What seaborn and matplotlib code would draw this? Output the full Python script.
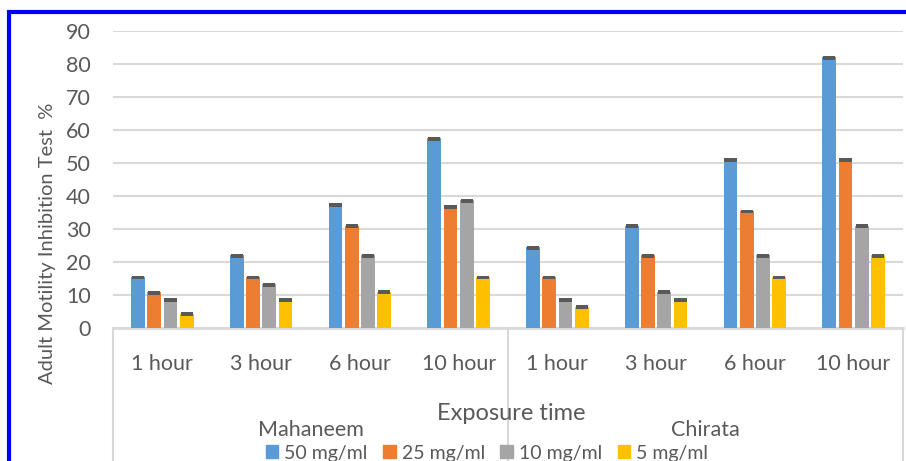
import matplotlib
matplotlib.use("Agg")
import matplotlib.pyplot as plt
import matplotlib.patches as mpatches
import seaborn as sns
import pandas as pd

# values (percent)
plants = ["Mahaneem", "Chirata"]
times = ["1 hour", "3 hour", "6 hour", "10 hour"]
concs = ["50 mg/ml", "25 mg/ml", "10 mg/ml", "5 mg/ml"]
colors = ["#5b9bd5", "#ed7d31", "#a5a5a5", "#ffc000"]

mahaneem_50 = [15.5, 22, 37.5, 57.5]
mahaneem_25 = [10.8, 15.5, 31, 37]
mahaneem_10 = [8.7, 13.2, 22, 38.8]
mahaneem_5 = [4.3, 8.7, 11, 15.5]
chirata_50 = [24.5, 31, 51, 82]
chirata_25 = [15.5, 22, 35.5, 51]
chirata_10 = [8.7, 11, 22, 31]
chirata_5 = [6.5, 8.7, 15.5, 22]

series = {
    "Mahaneem": [mahaneem_50, mahaneem_25, mahaneem_10, mahaneem_5],
    "Chirata": [chirata_50, chirata_25, chirata_10, chirata_5],
}

rows = []
for p in plants:
    for c, vals in zip(concs, series[p]):
        for t, v in zip(times, vals):
            rows.append({"cat": p + " " + t, "conc": c, "value": v})
df = pd.DataFrame(rows)
order = [p + " " + t for p in plants for t in times]

sns.set_style("white")
plt.rcParams["font.family"] = ["Lato", "DejaVu Sans"]
txt = "#595959"
grid = "#d9d9d9"

fig = plt.figure(figsize=(9.06, 4.61), dpi=100)
ax = fig.add_axes([113 / 906, 1 - 328 / 461, 790 / 906, (328 - 31) / 461])

sns.barplot(data=df, x="cat", y="value", hue="conc", order=order, hue_order=concs,
            palette=colors, width=0.66, gap=0.16, saturation=1, ax=ax,
            legend=False, zorder=3, linewidth=0)

# dark caps on the bar tops
bars = list(ax.patches)
for b in bars:
    h = b.get_height()
    ax.add_patch(mpatches.Rectangle((b.get_x() + b.get_width() * 0.05, h - 0.8),
                                    b.get_width() * 0.9, 1.2, facecolor="#595959",
                                    zorder=4, lw=0))

ax.set_ylim(0, 90)
ax.set_xlim(-0.5, 7.5)
ax.set_yticks(range(0, 91, 10))
ax.yaxis.grid(True, color=grid, lw=1.5, zorder=0)
ax.tick_params(axis="y", length=0, labelsize=15.5, labelcolor=txt, pad=16)
ax.tick_params(axis="x", length=0, labelsize=15.5, labelcolor=txt, pad=19)
ax.set_xticks(range(8))
ax.set_xticklabels(times * 2)
ax.set_xlabel("")
ax.set_ylabel("")
for s in ["left", "right", "top"]:
    ax.spines[s].set_visible(False)
ax.spines["bottom"].set_color(grid)
ax.spines["bottom"].set_linewidth(2)

# group separators below the axis
for xp in [-0.5, 3.5, 7.5]:
    ax.plot([xp, xp], [0, -45], color=grid, lw=1.5, clip_on=False, zorder=1)

for i, p in enumerate(plants):
    ax.text(1.5 + 4 * i, -31, p, ha="center", va="center", fontsize=15.5,
            color=txt, transform=ax.transData, clip_on=False)

fig.text(511 / 906, 1 - 413 / 461, "Exposure time", ha="center", va="center",
         fontsize=17, color=txt)
fig.text(48 / 906, 1 - 243 / 461, "Adult Motility Inhibition Test  %", rotation=90,
         ha="center", va="center", fontsize=14.5, color=txt)

handles = [mpatches.Patch(color=c, label=l) for c, l in zip(colors, concs)]
fig.legend(handles=handles, loc="center", bbox_to_anchor=(487 / 906, 1 - 453 / 461),
           ncol=4, frameon=False, fontsize=14, labelcolor=txt, handlelength=0.65,
           handleheight=0.65, handletextpad=0.3, columnspacing=0.8)

# blue frame, bottom and right run off the picture
fig.patches.append(mpatches.Rectangle((9 / 906, -0.1), 1.0, 1 - 12 / 461 + 0.1,
                                      transform=fig.transFigure, fill=False,
                                      edgecolor="#0000ff", lw=3))

fig.savefig("out.png", dpi=100)
